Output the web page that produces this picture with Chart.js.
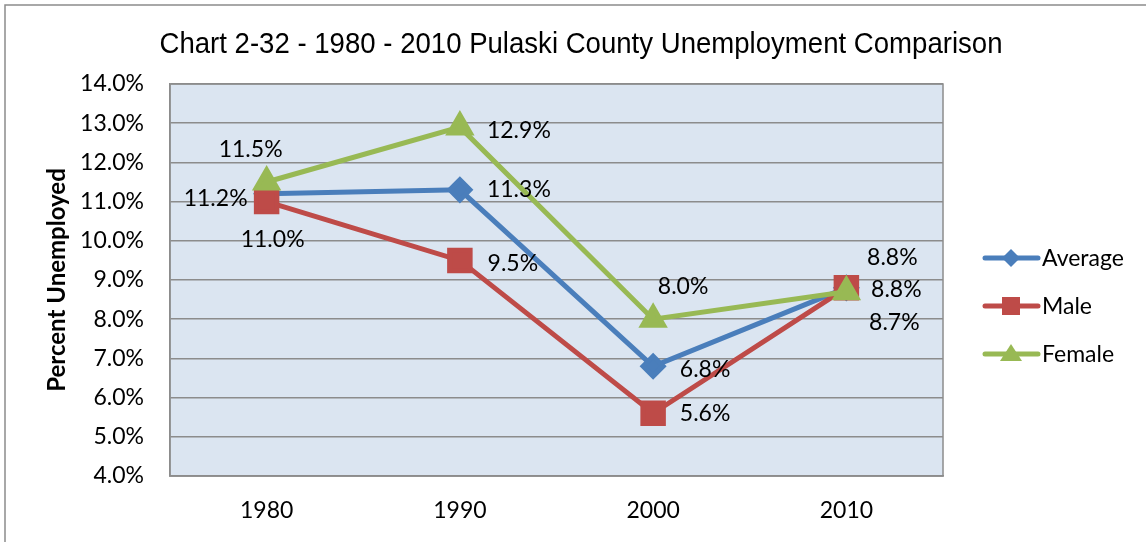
<!DOCTYPE html>
<html>
<head>
<meta charset="utf-8">
<script src="https://cdn.jsdelivr.net/npm/chart.js@4"></script>
<style>
  html, body { margin: 0; padding: 0; background: #fff; }
  #wrap { width: 1146px; height: 542px; position: relative; }
</style>
</head>
<body>
<div id="wrap"><canvas id="myChart" width="1146" height="542"></canvas></div>
<script>
// Chart 2-32 unemployment data
const years = ["1980", "1990", "2000", "2010"];
const averageData = [11.2, 11.3, 6.8, 8.8];
const maleData = [11.0, 9.5, 5.6, 8.8];
const femaleData = [11.5, 12.9, 8.0, 8.7];
const yTicks = [4, 5, 6, 7, 8, 9, 10, 11, 12, 13, 14];

const titleText = "Chart 2-32 - 1980 - 2010 Pulaski County Unemployment Comparison";
const tickFont = "Lato, 'Open Sans', sans-serif";

// where each value label sits relative to its point (dx, dy)
const labelOffsets = [
  [[-51, 5], [59, 0], [52, 3], [46, -30]],
  [[6, 38], [53, 3], [52, 0], [50, 2]],
  [[-16, -32], [59, 3], [30, -33], [48, 31]],
];

// title, outer border, value labels and legend
const extras = {
  id: "extras",
  beforeDraw(chart) {
    const c = chart.ctx;
    c.save();
    c.strokeStyle = "#8c8c8c";
    c.lineWidth = 1.5;
    c.beginPath();
    c.moveTo(5, 542);
    c.lineTo(5, 5);
    c.lineTo(1146, 5);
    c.stroke();
    c.restore();
  },
  afterDatasetsDraw(chart) {
    const c = chart.ctx;
    c.save();
    c.fillStyle = "#000";
    c.font = "30px 'Liberation Sans', sans-serif";
    c.textAlign = "center";
    c.textBaseline = "middle";
    // original title uses a narrow face, squeeze to its width
    c.fillText(titleText, 581, 45, 843);

    c.font = "23px " + tickFont;
    chart.data.datasets.forEach((ds, i) => {
      const meta = chart.getDatasetMeta(i);
      meta.data.forEach((pt, j) => {
        const o = labelOffsets[i][j];
        c.fillText(ds.data[j].toFixed(1) + "%", pt.x + o[0], pt.y + o[1]);
      });
    });

    // legend: line + marker, like the original
    c.textAlign = "left";
    chart.data.datasets.forEach((ds, i) => {
      const y = 258 + i * 48;
      c.strokeStyle = ds.borderColor;
      c.lineWidth = 5;
      c.lineCap = "round";
      c.beginPath();
      c.moveTo(985, y);
      c.lineTo(1038, y);
      c.stroke();
      c.fillStyle = ds.borderColor;
      c.beginPath();
      if (ds.pointStyle === "rectRot") {
        c.moveTo(1011, y - 9); c.lineTo(1020, y); c.lineTo(1011, y + 9); c.lineTo(1002, y);
      } else if (ds.pointStyle === "rect") {
        c.rect(1002, y - 9, 18, 18);
      } else {
        c.moveTo(1011, y - 10); c.lineTo(1022, y + 7); c.lineTo(1000, y + 7);
      }
      c.closePath();
      c.fill();
      c.fillStyle = "#000";
      c.fillText(ds.label, 1042, y + 1);
    });
    c.restore();
  },
};

new Chart(document.getElementById("myChart"), {
  type: "line",
  data: {
    labels: years,
    datasets: [
      {
        label: "Average",
        data: averageData,
        order: 2,
        borderColor: "#4A7EBB",
        backgroundColor: "#4A7EBB",
        borderWidth: 5,
        pointStyle: "rectRot",
        pointRadius: 10,
        pointHoverRadius: 10,
      },
      {
        label: "Male",
        data: maleData,
        order: 1,
        borderColor: "#BE4B48",
        backgroundColor: "#BE4B48",
        borderWidth: 5,
        pointStyle: "rect",
        pointRadius: 14.5,
        pointHoverRadius: 14.5,
      },
      {
        label: "Female",
        data: femaleData,
        order: 0,
        borderColor: "#98B954",
        backgroundColor: "#98B954",
        borderWidth: 5,
        pointStyle: "triangle",
        pointRadius: 12,
        pointHoverRadius: 12,
      },
    ],
  },
  options: {
    responsive: false,
    animation: false,
    layout: { padding: { top: 84, right: 203, left: 0, bottom: 0 } },
    plugins: {
      legend: { display: false },
      tooltip: { enabled: false },
      title: { display: false },
    },
    scales: {
      x: {
        offset: true,
        afterFit: (s) => { s.height = 66; },
        grid: { display: false, drawTicks: false },
        border: { display: true, color: "#8c8c8c", width: 1.5 },
        ticks: {
          padding: 21,
          color: "#000",
          font: { family: tickFont, size: 23 },
        },
      },
      y: {
        min: 4,
        max: 14,
        afterFit: (s) => { s.width = 170; },
        afterBuildTicks: (s) => { s.ticks = yTicks.map((v) => ({ value: v })); },
        grid: { color: "#8c8c8c", lineWidth: 1.5, drawTicks: false },
        border: { display: true, color: "#8c8c8c", width: 1.5 },
        ticks: {
          padding: 26,
          color: "#000",
          font: { family: tickFont, size: 23 },
          callback: (v) => v.toFixed(1) + "%",
        },
        title: {
          display: true,
          text: "Percent Unemployed",
          color: "#000",
          padding: { top: 43, bottom: 0 },
          font: { family: tickFont, size: 24, weight: "bold" },
        },
      },
    },
  },
  plugins: [
    extras,
    {
      id: "plotBg",
      beforeDraw(chart) {
        const a = chart.chartArea;
        chart.ctx.save();
        chart.ctx.fillStyle = "#DBE5F1";
        chart.ctx.fillRect(a.left, a.top, a.right - a.left, a.bottom - a.top);
        chart.ctx.strokeStyle = "#8c8c8c";
        chart.ctx.lineWidth = 1.5;
        chart.ctx.strokeRect(a.left, a.top, a.right - a.left, a.bottom - a.top);
        chart.ctx.restore();
      },
    },
  ],
});
</script>
</body>
</html>
